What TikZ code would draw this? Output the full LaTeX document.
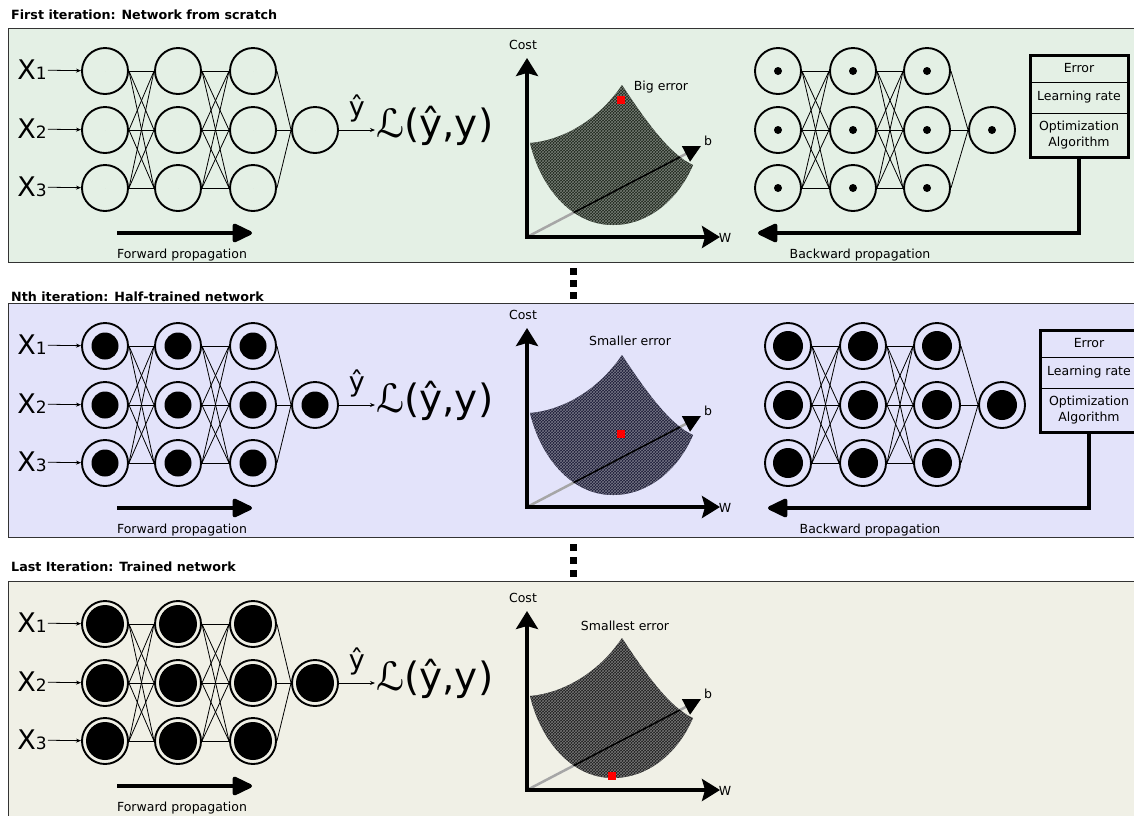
\documentclass[tikz,border=0pt]{standalone}
\usepackage{fontspec}
\setmainfont{DejaVu Sans}
\usetikzlibrary{arrows.meta, positioning, patterns}
\definecolor{pgreen}{RGB}{228,240,229}
\definecolor{pblue}{RGB}{227,227,250}
\definecolor{pbeige}{RGB}{240,240,230}
\definecolor{sgreen}{RGB}{28,38,26}
\definecolor{sblue}{RGB}{26,26,54}
\definecolor{sgray}{RGB}{28,28,28}
\newcommand{\bowl}{(530,143) .. controls (565,140) and (600,118) .. (622,85)
  .. controls (645,120) and (670,155) .. (693,165)
  .. controls (678,200) and (648,225) .. (613,225)
  .. controls (570,225) and (540,185) .. cycle}

\begin{document}
\begin{tikzpicture}[x=1pt, y=-1pt,
    neuron/.style={circle, draw, line width=1.9pt, minimum size=46pt, inner sep=0pt,
        path picture={\fill (path picture bounding box.center) circle (#1);}},
    link/.style={line width=0.8pt},
    inarrow/.style={-{Stealth[length=5pt,width=4pt]}, line width=0.8pt},
    bigarrow/.style={-{Triangle[length=22pt,width=20pt,round]}, line width=3.8pt},
    axis/.style={{Stealth[length=18pt,width=22pt,inset=3pt]}-{Stealth[length=18pt,width=22pt,inset=3pt]}, line width=3.5pt},
    lbl/.style={font=\fontsize{12.5}{16}\selectfont, inner sep=1pt},
    ttl/.style={font=\fontsize{12.7}{14}\selectfont\bfseries, anchor=west, inner sep=0pt},
    cell/.style={draw, line width=0.8pt, minimum width=98pt, inner sep=0pt, outer sep=0pt,
        font=\fontsize{12.5}{16}\selectfont, align=center}
]
\useasboundingbox (0,0) rectangle (1134,815);
\clip (0,0) rectangle (1134,815);

\foreach \p/\dy/\ty/\bg/\sc/\fr/\br/\bx/\err/\ex/\ey/\sx/\sy/\py/\title in {%
  1/0/15/pgreen/sgreen/0pt/4pt/0/Big error/661/87/621/100/0/First iteration: Network from scratch,%
  2/275/22/pblue/sblue/13.5pt/15pt/10/Smaller error/630/71/621/164/5/Nth iteration: Half-trained network,%
  3/553/14/pbeige/sgray/19pt/0pt/0/Smallest error/625/73/612/223/0/Last Iteration: Trained network}{%
\begin{scope}[yshift=-\dy pt]
  \pgfmathsetmacro{\fb}{\p==3 ? 290 : 262}
  \draw[black!80, line width=1pt, fill=\bg] (8,28.5) rectangle (1150,\fb);
  \node[ttl] (t\p) at (11,\ty) {\title};

  % forward network
  \foreach \k/\x in {1/105,2/178,3/253}
    \foreach \j/\y in {1/71,2/130,3/188}
      \node[neuron=\fr] (f\p-\k-\j) at (\x,\y) {};
  \node[neuron=\fr] (f\p-o) at (315,130) {};
  \foreach \k/\m in {1/2,2/3}
    \foreach \a in {1,2,3}
      \foreach \b in {1,2,3}
        \draw[link] (f\p-\k-\a.east) -- (f\p-\m-\b.west);
  \foreach \a in {1,2,3}
    \draw[link] (f\p-3-\a.east) -- (f\p-o.west);
  \foreach \j/\y in {1/70,2/129,3/187} {
    \node[inner sep=1pt, font=\fontsize{27}{27}\selectfont] (x\p-\j) at (32,\y)
      {X{\fontsize{17}{17}\selectfont\j}};
    \draw[inarrow] (x\p-\j) -- (f\p-1-\j);
  }
  \node[inner sep=1pt, anchor=west, font=\fontsize{39}{39}\selectfont] (loss\p) at (375,126) {ℒ(ŷ,y)};
  \draw[inarrow] (f\p-o) -- (f\p-o -| loss\p.west)
    node[midway, above=6pt, inner sep=1pt, font=\fontsize{27}{27}\selectfont] (yh\p) {ŷ};
  \coordinate (fs\p) at (117,233);
  \coordinate (fe\p) at (252,233);
  \draw[bigarrow] (fs\p) -- (fe\p);
  \node[lbl] (fl\p) at (182,255) {Forward propagation};

  % backward network
  \ifnum\p<3
  \begin{scope}[xshift=\bx pt]
    \foreach \k/\x in {1/778,2/853,3/927}
      \foreach \j/\y in {1/71,2/130,3/188}
        \node[neuron=\br] (g\p-\k-\j) at (\x,\y) {};
    \node[neuron=\br] (g\p-o) at (992,130) {};
    \foreach \k/\m in {1/2,2/3}
      \foreach \a in {1,2,3}
        \foreach \b in {1,2,3}
          \draw[link] (g\p-\k-\a.east) -- (g\p-\m-\b.west);
    \foreach \a in {1,2,3}
      \draw[link] (g\p-3-\a.east) -- (g\p-o.west);
    \node[cell, minimum height=27pt] (er\p) at (1079,68.5) {Error};
    \node[cell, minimum height=31pt, below=0pt of er\p] (lr\p) {Learning rate};
    \node[cell, minimum height=44pt, below=0pt of lr\p] (op\p) {Optimization\\Algorithm};
    \draw[line width=3pt] (er\p.north west) rectangle (op\p.south east);
    \coordinate (be\p) at (758,233);
    \draw[bigarrow] (op\p.south) |- (be\p);
    \node[lbl] (bl\p) at (860,255) {Backward propagation};
  \end{scope}
  \fi

  % cost surface
  \begin{scope}[yshift=\py pt]
    \coordinate (o\p) at (527,237);
    \coordinate (ct\p) at (527,58);
    \coordinate (wt\p) at (720,237);
    \coordinate (bt\p) at (701,146);
    \draw[line width=2.5pt, gray!70, -{Triangle[length=17pt,width=17pt,color=black]}] (o\p) -- (bt\p);
    \fill[\sc] \bowl;
    \fill[pattern=crosshatch, pattern color=\sc!60!white] \bowl;
    \begin{scope}
      \clip \bowl;
      \draw[line width=1.5pt, black] (o\p) -- (bt\p);
    \end{scope}
    \draw[axis] (ct\p) -- (o\p) -- (wt\p);
    \node[fill=red, minimum size=8pt, inner sep=0pt] (pt\p) at (\sx,\sy) {};
    \node[lbl] (el\p) at (\ex,\ey) {\err};
    \node[lbl] (cl\p) at (523,45) {Cost};
    \node[lbl] (wl\p) at (725,238) {W};
    \node[lbl] (bn\p) at (708,141) {b};
  \end{scope}
\end{scope}
}

% dots between panels
\foreach \y in {271,283,295,547,560,573}
  \fill (569.5,\y-3.5) rectangle ++(7,7);
\end{tikzpicture}
\end{document}
